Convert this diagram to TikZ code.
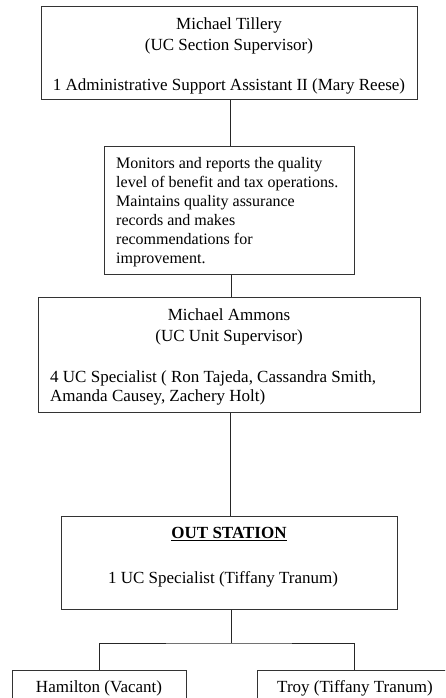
\documentclass[tikz,border=0pt]{standalone}
\usepackage{fontspec}
\setmainfont{Liberation Serif}
\usetikzlibrary{fit}
\begin{document}
\begin{tikzpicture}[x=1pt,y=-1pt,
  box/.style={draw=black!80, line width=1pt, inner sep=0pt},
  txt/.style={inner sep=0pt, anchor=base, font=\fontsize{17}{20}\selectfont},
  ltxt/.style={inner sep=0pt, anchor=base west, font=\fontsize{17}{20}\selectfont},
  qtxt/.style={inner sep=0pt, anchor=base west, font=\fontsize{16}{19}\selectfont},
  link/.style={draw=black!85, line width=1pt}]
\useasboundingbox (0,0) rectangle (445,698);
\clip (0,0) rectangle (445,698);

% boxes (corner to corner)
\node[box, fit={(41,7) (417,100)}] (sect) {};
\node[box, fit={(104,146) (354,274)}] (qa) {};
\node[box, fit={(38,297) (420,412)}] (unit) {};
\node[box, fit={(61,516) (397,609)}] (out) {};
\node[box, fit={(12,670) (186,720)}] (ham) {};
\node[box, fit={(257,670) (451,720)}] (troy) {};

% section supervisor
\node[txt] (t1) at (229,29.5) {Michael Tillery};
\node[txt] (t2) at (229,50.5) {(UC Section Supervisor)};
\node[txt] (t3) at (229,90.5) {1 Administrative Support Assistant II (Mary Reese)};

% quality assurance duties
\foreach \line [count=\i] in {Monitors and reports the quality,
  level of benefit and tax operations.,
  Maintains quality assurance,
  records and makes,
  recommendations for,
  improvement.}
  \node[qtxt] (q\i) at (116,149+19*\i) {\line};

% unit supervisor
\node[txt] (u1) at (229,320.5) {Michael Ammons};
\node[txt] (u2) at (229,341.5) {(UC Unit Supervisor)};
\node[ltxt] (u3) at (50,382) {4 UC Specialist ( Ron Tajeda, Cassandra Smith,};
\node[ltxt] (u4) at (50,401) {Amanda Causey, Zachery Holt)};

% out station
\node[txt] (o1) at (229,538.5) {\underline{\textbf{OUT STATION}}};
\node[txt] (o2) at (223,583.5) {1 UC Specialist (Tiffany Tranum)};

% locations
\node[txt] (h1) at (99,692.5) {Hamilton (Vacant)};
\node[txt] (r1) at (355,692.5) {Troy (Tiffany Tranum)};

% connectors
\coordinate (split) at (231,643);
\draw[link] (sect.south -| 230,0) -- (qa.north -| 230,0);
\draw[link] (qa.south -| 231,0) -- (unit.north -| 231,0);
\draw[link] (unit.south -| 230,0) -- (out.north -| 230,0);
\draw[link] (out.south -| split) -- (split);
\draw[link] (ham.north) |- (split) -| (troy.north);
\end{tikzpicture}
\end{document}
